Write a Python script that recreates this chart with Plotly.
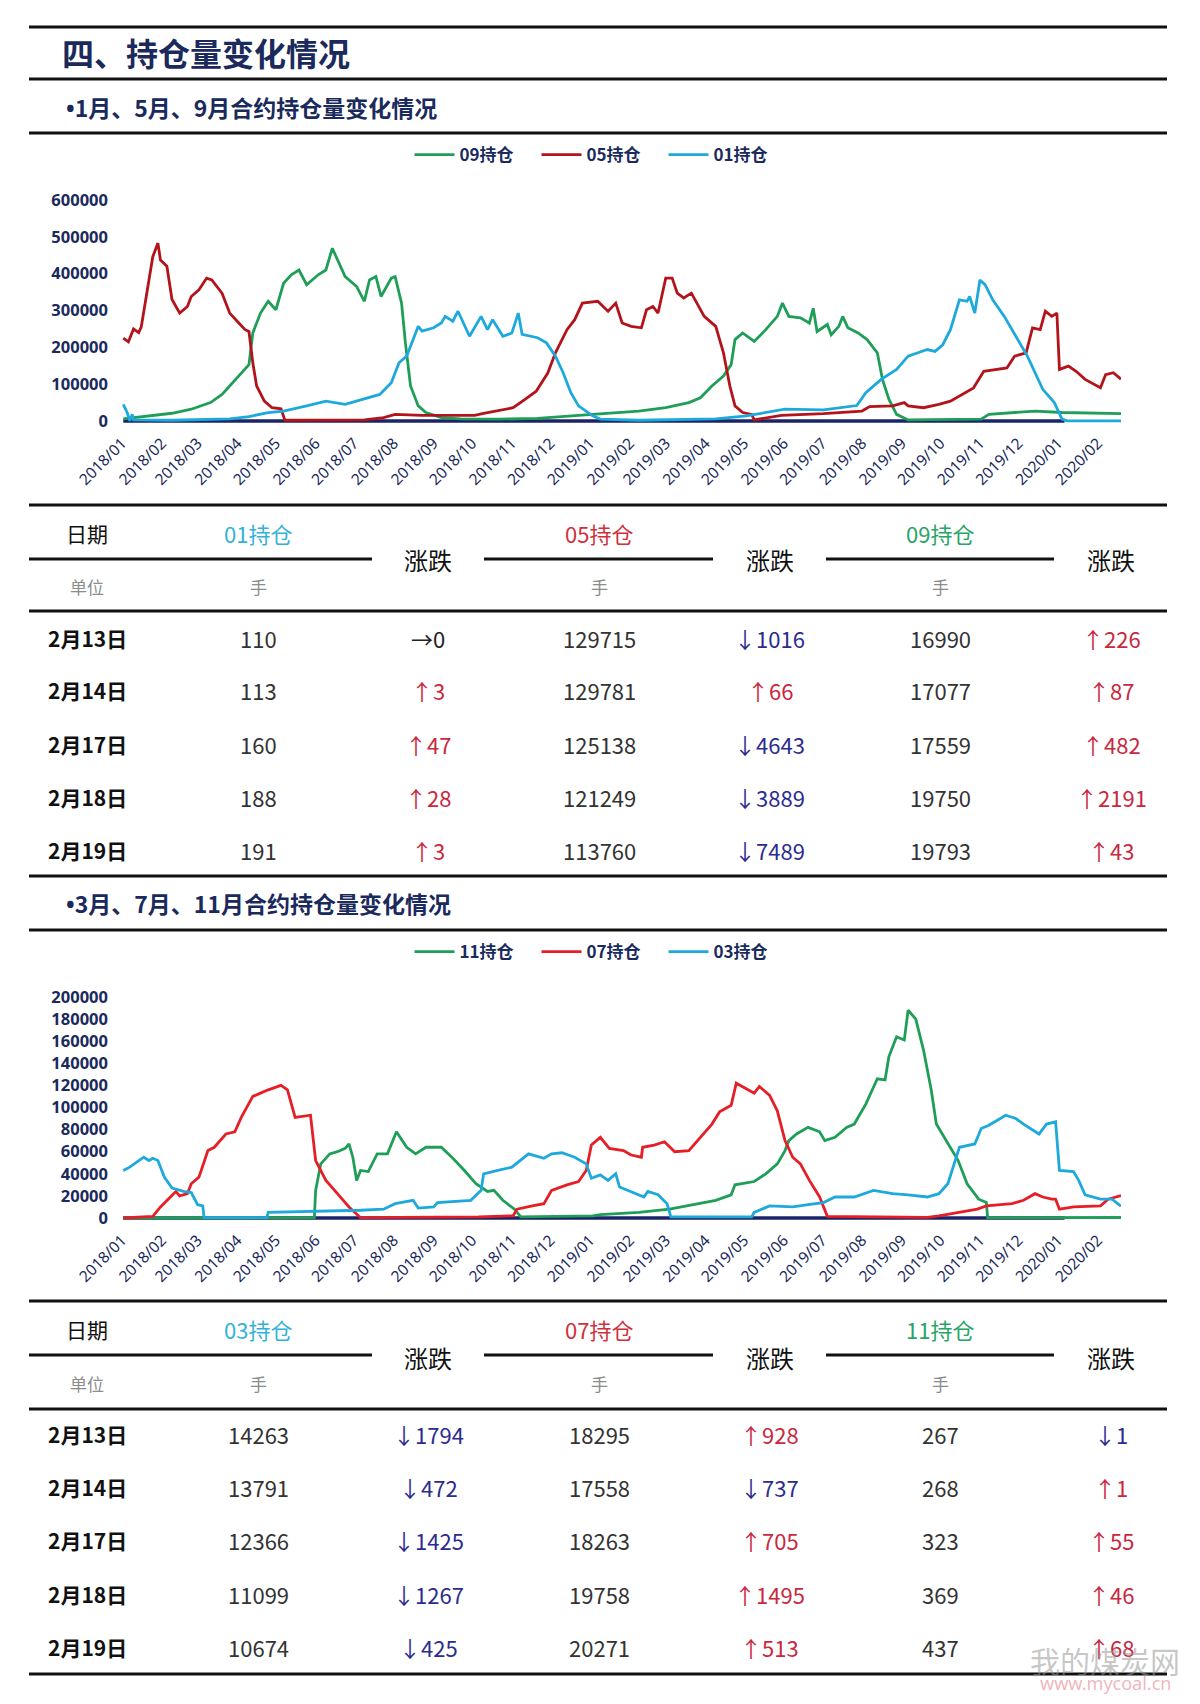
import plotly.graph_objects as go

# ---------------- DATA ----------------
# Chart 1: 1月、5月、9月合约持仓量
c1_09_dates = ["2018-01-02","2018-01-25","2018-02-09","2018-02-24","2018-03-11","2018-03-20","2018-03-26","2018-04-04","2018-04-10","2018-04-13","2018-04-19","2018-04-25","2018-05-01","2018-05-07","2018-05-13","2018-05-19","2018-05-25","2018-06-03","2018-06-09","2018-06-14","2018-06-18","2018-06-24","2018-07-03","2018-07-09","2018-07-13","2018-07-18","2018-07-22","2018-07-30","2018-08-02","2018-08-07","2018-08-10","2018-08-14","2018-08-20","2018-08-26","2018-09-07","2018-09-22","2018-10-22","2018-11-21","2019-01-03","2019-02-08","2019-03-01","2019-03-19","2019-03-28","2019-04-06","2019-04-15","2019-04-21","2019-04-24","2019-04-30","2019-05-09","2019-05-18","2019-05-27","2019-05-31","2019-06-05","2019-06-14","2019-06-21","2019-06-24","2019-06-27","2019-07-05","2019-07-08","2019-07-14","2019-07-17","2019-07-21","2019-07-29","2019-08-05","2019-08-13","2019-08-17","2019-08-22","2019-08-28","2019-09-06","2019-11-02","2019-11-08","2019-12-14","2020-01-04","2020-02-03","2020-02-19"]
c1_09_vals = [6000,15000,21000,32000,50000,72000,95000,131000,153000,239000,293000,325000,302000,374000,397000,410000,370000,397000,410000,469000,437000,392000,365000,325000,383000,392000,338000,388000,392000,320000,212000,95000,41000,23000,9000,6000,5000,7000,18000,27000,36000,50000,63000,95000,122000,153000,221000,239000,216000,248000,284000,320000,284000,280000,266000,306000,243000,262000,234000,257000,284000,253000,239000,221000,185000,113000,59000,18000,3000,5000,18000,27000,23000,20000,19793]

c1_05_dates = ["2018-01-02","2018-01-06","2018-01-10","2018-01-14","2018-01-16","2018-01-19","2018-01-25","2018-01-29","2018-01-31","2018-02-05","2018-02-09","2018-02-15","2018-02-21","2018-02-24","2018-03-02","2018-03-08","2018-03-12","2018-03-20","2018-03-26","2018-04-01","2018-04-07","2018-04-10","2018-04-13","2018-04-16","2018-04-22","2018-04-28","2018-05-05","2018-05-08","2018-05-25","2018-07-09","2018-07-24","2018-08-02","2018-08-23","2018-10-03","2018-10-09","2018-10-21","2018-11-02","2018-11-11","2018-11-20","2018-11-29","2018-12-05","2018-12-14","2018-12-20","2018-12-26","2019-01-07","2019-01-15","2019-01-21","2019-01-26","2019-02-02","2019-02-10","2019-02-14","2019-02-19","2019-02-23","2019-03-01","2019-03-06","2019-03-10","2019-03-15","2019-03-21","2019-03-27","2019-03-31","2019-04-09","2019-04-15","2019-04-20","2019-04-24","2019-04-30","2019-05-07","2019-05-09","2019-05-30","2019-07-02","2019-08-01","2019-08-07","2019-08-25","2019-09-03","2019-09-06","2019-09-18","2019-09-30","2019-10-09","2019-10-18","2019-10-27","2019-11-04","2019-11-13","2019-11-22","2019-11-28","2019-12-07","2019-12-12","2019-12-18","2019-12-22","2019-12-27","2019-12-31","2020-01-02","2020-01-09","2020-01-15","2020-01-22","2020-02-03","2020-02-07","2020-02-13","2020-02-19"]
c1_05_vals = [225000,215000,250000,240000,255000,320000,446000,483000,437000,420000,330000,293000,311000,338000,356000,388000,383000,347000,293000,270000,248000,243000,158000,95000,54000,36000,33000,2000,2000,3000,9000,18000,15000,15000,20000,27000,36000,58000,81000,130000,185000,248000,275000,320000,325000,298000,320000,266000,257000,253000,302000,311000,293000,388000,388000,347000,334000,347000,311000,284000,257000,185000,95000,41000,23000,18000,3000,15000,20000,27000,39000,41000,50000,41000,36000,45000,54000,72000,90000,135000,140000,144000,176000,185000,253000,248000,298000,284000,293000,140000,149000,135000,113000,90000,126000,131000,113760]

c1_01_dates = ["2018-01-02","2018-01-05","2018-01-07","2018-01-09","2018-01-10","2018-02-09","2018-03-26","2018-04-10","2018-04-25","2018-05-07","2018-05-25","2018-06-09","2018-06-24","2018-07-09","2018-07-21","2018-07-30","2018-08-05","2018-08-11","2018-08-17","2018-08-20","2018-08-23","2018-09-01","2018-09-07","2018-09-10","2018-09-16","2018-09-20","2018-09-29","2018-10-08","2018-10-13","2018-10-17","2018-10-25","2018-11-01","2018-11-06","2018-11-09","2018-11-21","2018-11-28","2018-12-05","2018-12-11","2018-12-17","2018-12-23","2019-01-03","2019-01-09","2019-02-08","2019-04-09","2019-05-03","2019-06-02","2019-07-02","2019-07-28","2019-08-04","2019-08-16","2019-08-28","2019-09-06","2019-09-21","2019-09-27","2019-10-03","2019-10-09","2019-10-16","2019-10-22","2019-10-24","2019-10-28","2019-11-01","2019-11-05","2019-11-11","2019-11-20","2019-11-29","2019-12-08","2019-12-20","2019-12-29","2020-01-04","2020-01-08","2020-02-19"]
c1_01_vals = [45000,23000,500,18000,3000,2000,6000,12000,23000,27000,41000,54000,45000,59000,72000,104000,158000,176000,230000,257000,244000,253000,266000,284000,271000,298000,230000,284000,248000,275000,230000,239000,293000,235000,226000,212000,176000,131000,77000,41000,14000,5000,2000,6000,14000,32000,30000,42000,77000,113000,140000,176000,194000,189000,207000,248000,329000,325000,338000,293000,383000,370000,329000,284000,230000,176000,86000,50000,5000,200,191]

# Chart 2: 3月、7月、11月合约持仓量
c2_11_dates = ["2018-01-02","2018-05-31","2018-06-01","2018-06-05","2018-06-12","2018-06-18","2018-06-24","2018-06-27","2018-06-30","2018-07-03","2018-07-06","2018-07-12","2018-07-19","2018-07-27","2018-08-03","2018-08-11","2018-08-18","2018-08-26","2018-09-07","2018-09-16","2018-09-25","2018-10-04","2018-10-13","2018-10-18","2018-10-25","2018-11-03","2018-11-08","2019-01-03","2019-01-09","2019-02-08","2019-03-04","2019-03-28","2019-04-09","2019-04-21","2019-04-24","2019-05-09","2019-05-18","2019-05-27","2019-06-02","2019-06-05","2019-06-11","2019-06-20","2019-06-29","2019-07-03","2019-07-11","2019-07-20","2019-07-26","2019-08-04","2019-08-13","2019-08-19","2019-08-22","2019-08-28","2019-09-03","2019-09-06","2019-09-12","2019-09-18","2019-09-24","2019-09-28","2019-10-07","2019-10-15","2019-10-22","2019-10-31","2019-11-06","2019-11-07","2020-02-19"]
c2_11_vals = [0,300,25000,49000,58000,60000,63000,67000,55000,34000,43000,42000,58000,58000,78000,64000,58000,64000,64000,54000,43000,31000,24000,25000,16000,8000,1000,2000,3000,5000,8000,13000,16000,21000,30000,33000,40000,49000,61000,70000,76000,82000,78000,70000,73000,82000,85000,103000,126000,125000,146000,164000,161000,188000,180000,152000,116000,85000,67000,52000,31000,17000,14000,300,437]

c2_07_dates = ["2018-01-02","2018-01-25","2018-01-31","2018-02-06","2018-02-12","2018-02-15","2018-02-21","2018-02-24","2018-03-02","2018-03-09","2018-03-14","2018-03-23","2018-03-30","2018-04-04","2018-04-13","2018-04-19","2018-04-25","2018-05-05","2018-05-10","2018-05-16","2018-05-28","2018-06-01","2018-06-09","2018-06-18","2018-06-27","2018-07-06","2018-10-06","2018-11-02","2018-11-05","2018-11-17","2018-11-26","2018-12-02","2018-12-14","2018-12-23","2018-12-29","2019-01-02","2019-01-09","2019-01-16","2019-01-27","2019-02-02","2019-02-10","2019-02-11","2019-02-20","2019-02-28","2019-03-08","2019-03-19","2019-03-25","2019-03-31","2019-04-06","2019-04-12","2019-04-21","2019-04-25","2019-05-03","2019-05-09","2019-05-13","2019-05-21","2019-05-27","2019-06-02","2019-06-08","2019-06-14","2019-06-21","2019-06-29","2019-07-05","2019-09-21","2019-09-30","2019-10-15","2019-10-30","2019-11-06","2019-11-26","2019-12-05","2019-12-14","2019-12-20","2019-12-27","2019-12-30","2020-01-02","2020-01-13","2020-02-03","2020-02-09","2020-02-19"]
c2_07_vals = [0,1500,10000,17000,24000,20000,22000,31000,37000,61000,64000,76000,78000,91000,110000,113000,116000,120000,116000,91000,93000,52000,34000,22000,10000,300,1000,2000,8000,11000,13000,25000,30000,33000,43000,66000,73000,63000,61000,57000,55000,64000,66000,69000,60000,61000,69000,78000,85000,96000,102000,122000,117000,113000,119000,111000,97000,70000,55000,49000,34000,19000,1500,500,2000,5000,8000,11000,13000,16000,22000,19000,17000,17000,8000,10000,11000,17000,20271]

c2_03_dates = ["2018-01-02","2018-01-07","2018-01-13","2018-01-18","2018-01-22","2018-01-25","2018-01-29","2018-02-03","2018-02-09","2018-02-18","2018-02-24","2018-03-01","2018-03-05","2018-03-06","2018-04-24","2018-04-25","2018-07-06","2018-07-24","2018-08-02","2018-08-16","2018-08-20","2018-09-01","2018-09-04","2018-09-22","2018-09-30","2018-10-08","2018-10-10","2018-10-21","2018-11-01","2018-11-14","2018-11-26","2018-12-02","2018-12-10","2018-12-20","2018-12-29","2019-01-02","2019-01-09","2019-01-15","2019-01-21","2019-01-24","2019-02-02","2019-02-12","2019-02-15","2019-02-23","2019-03-02","2019-03-05","2019-05-07","2019-05-09","2019-05-21","2019-06-08","2019-06-20","2019-07-02","2019-07-11","2019-07-26","2019-08-10","2019-08-25","2019-09-06","2019-09-21","2019-09-30","2019-10-07","2019-10-16","2019-10-24","2019-10-28","2019-11-02","2019-11-08","2019-11-14","2019-11-21","2019-11-29","2019-12-05","2019-12-17","2019-12-23","2019-12-30","2020-01-02","2020-01-13","2020-01-17","2020-01-22","2020-02-03","2020-02-12","2020-02-19"]
c2_03_vals = [43000,46000,51000,55000,52000,54000,52000,37000,27000,24000,23000,12000,11000,300,300,5000,7000,8000,13000,16000,9000,10000,14000,15000,16000,25000,40000,43000,46000,58000,54000,58000,59000,55000,49000,36000,39000,34000,40000,28000,24000,19000,24000,21000,13000,1000,1000,5000,11000,10000,12000,14000,19000,19000,25000,22000,21000,19000,22000,31000,64000,66000,67000,81000,84000,88000,93000,90000,85000,76000,85000,87000,43000,42000,34000,21000,17000,17000,10674]

# base (dark navy) series lying on zero
base_dates = ["2018-01-02", "2020-01-06"]
base_vals = [0, 0]

# x-axis
x_range = ["2018-01-01", "2020-02-19"]

# Tables
row_dates = ["2月13日", "2月14日", "2月17日", "2月18日", "2月19日"]
t1_01 = [110, 113, 160, 188, 191]
t1_01_chg = [0, 3, 47, 28, 3]
t1_05 = [129715, 129781, 125138, 121249, 113760]
t1_05_chg = [-1016, 66, -4643, -3889, -7489]
t1_09 = [16990, 17077, 17559, 19750, 19793]
t1_09_chg = [226, 87, 482, 2191, 43]

t2_03 = [14263, 13791, 12366, 11099, 10674]
t2_03_chg = [-1794, -472, -1425, -1267, -425]
t2_07 = [18295, 17558, 18263, 19758, 20271]
t2_07_chg = [928, -737, 705, 1495, 513]
t2_11 = [267, 268, 323, 369, 437]
t2_11_chg = [-1, 1, 55, 46, 68]

# ---------------- STYLE ----------------
OFF = 8            # default page margin of the html body
W, H = 1200 - 2 * OFF, 1704 - 2 * OFF
NAVY = "#1b2a5c"
BASE = "#1a2466"
GREEN = "#1f9e57"
DRED = "#b3141c"
RED = "#e61e25"
CYAN = "#1ea9dc"
UP = "#c9283e"
DOWN = "#2c2c8f"
CJK = "Noto Sans CJK SC"


def px(x):
    return (x - OFF) / W


def py(y):
    return 1 - (y - OFF) / H


fig = go.Figure()


def add_line(x, y, color, name, xa, ya, leg, show=True, width=2.8):
    fig.add_trace(go.Scatter(
        x=x, y=y, mode="lines", name=name,
        line=dict(color=color, width=width),
        xaxis=xa, yaxis=ya, legend=leg, showlegend=show, hoverinfo="skip"))


# chart 1
add_line(base_dates, base_vals, BASE, "base", "x", "y", "legend", show=False, width=3.5)
add_line(c1_09_dates, c1_09_vals, GREEN, "09持仓", "x", "y", "legend")
add_line(c1_05_dates, c1_05_vals, DRED, "05持仓", "x", "y", "legend")
add_line(c1_01_dates, c1_01_vals, CYAN, "01持仓", "x", "y", "legend")
# chart 2
add_line(base_dates, base_vals, BASE, "base", "x2", "y2", "legend2", show=False, width=3.5)
add_line(c2_11_dates, c2_11_vals, GREEN, "11持仓", "x2", "y2", "legend2")
add_line(c2_07_dates, c2_07_vals, RED, "07持仓", "x2", "y2", "legend2")
add_line(c2_03_dates, c2_03_vals, CYAN, "03持仓", "x2", "y2", "legend2")

xaxis_common = dict(
    type="date", range=x_range, tick0="2018-01-01", dtick="M1",
    tickformat="%Y/%m", tickangle=-45, showgrid=False, zeroline=False,
    showline=False, ticks="", ticklabelstandoff=7, automargin=False,
    tickfont=dict(family="Noto Sans", size=15.5, color=NAVY),
    domain=[px(122), px(1121)],
)
yaxis_common = dict(
    showgrid=False, zeroline=False, showline=False, ticks="",
    tickformat="d", ticklabelstandoff=13, automargin=False,
    tickfont=dict(family="Noto Sans", size=16.5, color=NAVY, weight="bold"),
)

legend_common = dict(
    orientation="h", xanchor="center", yanchor="middle", x=0.5,
    font=dict(family=CJK, size=17, color=NAVY, weight="bold"),
    bgcolor="rgba(0,0,0,0)", itemwidth=40, traceorder="normal",
    entrywidth=72, entrywidthmode="pixels",
)

fig.update_layout(
    width=W, height=H, margin=dict(l=0, r=0, t=0, b=0, pad=0, autoexpand=False),
    paper_bgcolor="white", plot_bgcolor="white",
    xaxis=dict(xaxis_common, anchor="y"),
    yaxis=dict(yaxis_common, anchor="x", range=[-6000, 600000], dtick=100000,
               domain=[py(423.2), py(200)]),
    xaxis2=dict(xaxis_common, anchor="y2"),
    yaxis2=dict(yaxis_common, anchor="x2", range=[-2000, 200000], dtick=20000,
                domain=[py(1220.2), py(997)]),
    legend=dict(legend_common, y=py(155)),
    legend2=dict(legend_common, y=py(952)),
    showlegend=True,
)

# ---------------- rules ----------------
shapes = []


def rule(x0, x1, y, w=3):
    shapes.append(dict(type="line", xref="paper", yref="paper",
                       x0=px(x0), x1=px(x1), y0=py(y), y1=py(y),
                       line=dict(color="#111111", width=w)))


for yy in [27, 79, 133, 505, 611, 876, 930, 1301, 1409, 1674]:
    rule(29, 1167, yy)
for yy in [559, 1355]:
    rule(29, 372, yy)
    rule(484, 713, yy)
    rule(826, 1054, yy)

annos = []


def text(x, y, s, size, color, bold=False, anchor="center", family=CJK):
    annos.append(dict(x=px(x), y=py(y), xref="paper", yref="paper",
                      text=s, showarrow=False, xanchor=anchor, yanchor="middle",
                      font=dict(family=family, size=size, color=color,
                                weight="bold" if bold else "normal")))


BULLET = "<span style='font-family:Noto Sans'>•</span>"
text(60, 52, "四、持仓量变化情况", 32, NAVY, bold=True, anchor="left")
text(64, 107, BULLET + "1月、5月、9月合约持仓量变化情况", 23, NAVY, bold=True, anchor="left")
text(64, 903, BULLET + "3月、7月、11月合约持仓量变化情况", 23, NAVY, bold=True, anchor="left")

COLX = [87, 258, 428, 599, 770, 940, 1111]
HC = {"c": "#33b2d8", "r": "#d0303c", "g": "#27a466"}


def chg_text(v):
    if v > 0:
        return "↑" + str(v), UP
    if v < 0:
        return "↓" + str(-v), DOWN
    return "→0", "#222222"


def table(y_hdr, y_mid, y_unit, y_rows, heads, cols):
    text(COLX[0], y_hdr, "日期", 21, "#111111")
    text(COLX[0], y_unit, "单位", 17, "#8c8c8c")
    for i, (lbl, col) in enumerate(heads):
        cx = COLX[1 + 2 * i]
        text(cx, y_hdr, lbl, 22, col)
        text(cx, y_unit, "手", 17, "#8c8c8c")
        text(COLX[2 + 2 * i], y_mid, "涨跌", 24, "#111111")
    for r, yr in enumerate(y_rows):
        text(COLX[0], yr, row_dates[r], 21, "#111111", bold=True)
        for i, (vals, chg) in enumerate(cols):
            text(COLX[1 + 2 * i], yr, str(vals[r]), 22, "#333333")
            s, c = chg_text(chg[r])
            text(COLX[2 + 2 * i], yr, s, 22, c)


table(533, 560, 586, [638, 690, 744, 797, 850],
      [("01持仓", HC["c"]), ("05持仓", HC["r"]), ("09持仓", HC["g"])],
      [(t1_01, t1_01_chg), (t1_05, t1_05_chg), (t1_09, t1_09_chg)])
table(1329, 1357, 1383, [1434, 1487, 1540, 1594, 1647],
      [("03持仓", HC["c"]), ("07持仓", HC["r"]), ("11持仓", HC["g"])],
      [(t2_03, t2_03_chg), (t2_07, t2_07_chg), (t2_11, t2_11_chg)])

# watermark
text(1105, 1660, "我的煤炭网", 30, "rgba(150,150,150,0.55)")
text(1105, 1683, "www.mycoal.cn", 18, "rgba(225,120,135,0.55)", family="Noto Sans")

fig.update_layout(shapes=shapes, annotations=annos)
fig.write_html("out.html")
